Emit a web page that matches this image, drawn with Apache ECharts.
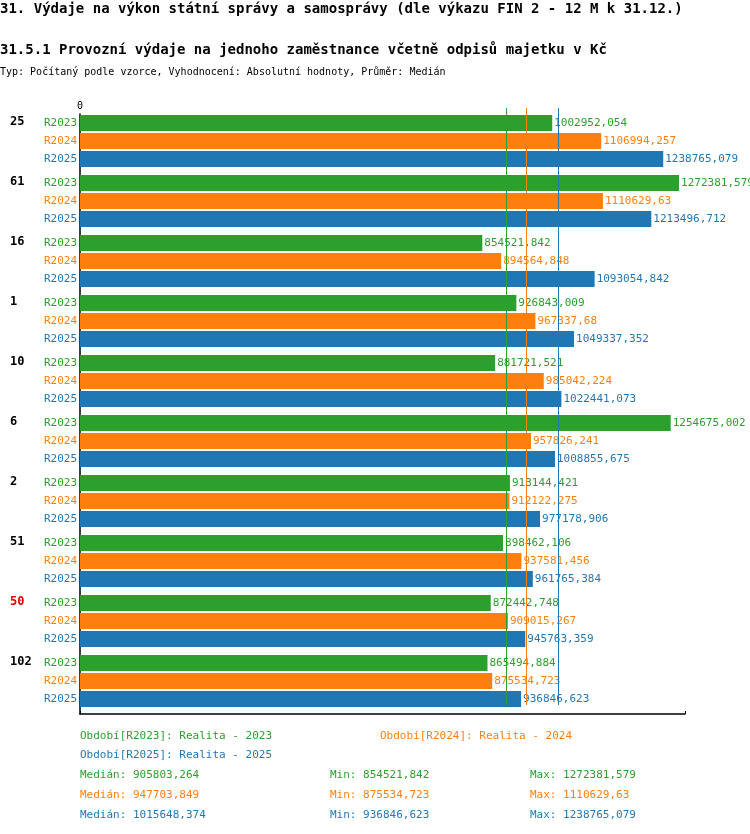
<!DOCTYPE html>
<html>
<head>
<meta charset="UTF-8">
<script src="https://cdn.jsdelivr.net/npm/echarts@6/dist/echarts.min.js"></script>
<style>body{margin:0}#root{width:750px;height:834px}</style>
</head>
<body>
<div id="root"></div>
<script>
var groups = ['25', '61', '16', '1', '10', '6', '2', '51', '50', '102'];
var periods = ['R2023', 'R2024', 'R2025'];
var r2023 = [1002952.054, 1272381.579, 854521.842, 926843.009, 881721.521, 1254675.002, 913144.421, 898462.106, 872442.748, 865494.884];
var r2024 = [1106994.257, 1110629.63, 894564.848, 967337.68, 985042.224, 957826.241, 912122.275, 937581.456, 909015.267, 875534.723];
var r2025 = [1238765.079, 1213496.712, 1093054.842, 1049337.352, 1022441.073, 1008855.675, 977178.906, 961765.384, 945763.359, 936846.623];
var medians = [905803.264, 947703.849, 1015648.374];
var colors = ['#2ca02c', '#ff7f0e', '#1f77b4'];
var XMAX = 1285000;
var font = 'DejaVu Sans Mono';

function fmt(v) { return String(v).replace('.', ','); }

var grids = [], xAxes = [], yAxes = [], series = [], graphics = [];
groups.forEach(function (g, i) {
  grids.push({ left: 80, width: 605, top: 114 + i * 60, height: 54 });
  xAxes.push({ gridIndex: i, type: 'value', min: 0, max: XMAX, show: false });
  yAxes.push({
    gridIndex: i, type: 'category', data: periods, inverse: true,
    axisLine: { show: false }, axisTick: { show: false },
    axisLabel: {
      fontFamily: font, fontSize: 11, margin: 3,
      formatter: function (v) { return '{' + v + '|' + v + '}'; },
      rich: { R2023: { color: colors[0], fontFamily: font, fontSize: 11 }, R2024: { color: colors[1], fontFamily: font, fontSize: 11 }, R2025: { color: colors[2], fontFamily: font, fontSize: 11 } }
    }
  });
  var vals = [r2023[i], r2024[i], r2025[i]];
  series.push({
    type: 'bar', xAxisIndex: i, yAxisIndex: i, barWidth: 16, z: 3,
    data: vals.map(function (v, k) {
      return { value: v, itemStyle: { color: colors[k] }, label: { color: colors[k] } };
    }),
    label: { show: true, position: 'right', distance: 2, fontFamily: font, fontSize: 11, formatter: function (p) { return fmt(p.value); } }
  });
  graphics.push({ type: 'text', left: 10, top: 116 + i * 60, style: { text: g, font: 'bold 12px ' + font, fill: g === '50' ? '#e00000' : '#000' } });
});

// axis frame grid
var fi = groups.length;
grids.push({ left: 80, width: 605, top: 114, height: 600 });
xAxes.push({ gridIndex: fi, type: 'value', position: 'top', min: 0, max: XMAX, interval: XMAX, splitLine: { show: false },
  axisLine: { lineStyle: { color: '#000', width: 1.5 } }, axisTick: { show: true, length: 3, lineStyle: { color: '#000' } },
  axisLabel: { fontFamily: font, fontSize: 10, color: '#000', margin: 3, formatter: function (v) { return v === 0 ? '0' : ''; } } });
yAxes.push({ gridIndex: fi, type: 'value', min: 0, max: 1, axisLine: { show: true, lineStyle: { color: '#000', width: 1.5 } },
  axisTick: { show: false }, axisLabel: { show: false }, splitLine: { show: false } });
series.push({ type: 'line', xAxisIndex: fi, yAxisIndex: fi, data: [] });

// median lines grid
var mi = fi + 1;
grids.push({ left: 80, width: 605, top: 108, height: 597 });
xAxes.push({ gridIndex: mi, type: 'value', min: 0, max: XMAX, show: false });
yAxes.push({ gridIndex: mi, type: 'value', min: 0, max: 1, show: false });
series.push({
  type: 'line', xAxisIndex: mi, yAxisIndex: mi, data: [], z: 1,
  markLine: {
    symbol: 'none', silent: true, label: { show: false },
    data: medians.map(function (m, k) { return { xAxis: m, lineStyle: { color: colors[k], width: 1, type: 'solid' } }; })
  }
});

var mins = [Math.min.apply(null, r2023), Math.min.apply(null, r2024), Math.min.apply(null, r2025)];
var maxs = [Math.max.apply(null, r2023), Math.max.apply(null, r2024), Math.max.apply(null, r2025)];
var tf = '11px ' + font;
graphics.push(
  { type: 'text', left: 0, top: 2, style: { text: '31. Výdaje na výkon státní správy a samosprávy (dle výkazu FIN 2 - 12 M k 31.12.)', font: 'bold 14px ' + font, fill: '#000' } },
  { type: 'text', left: 0, top: 43, style: { text: '31.5.1 Provozní výdaje na jednoho zaměstnance včetně odpisů majetku v Kč', font: 'bold 14px ' + font, fill: '#000' } },
  { type: 'text', left: 0, top: 67, style: { text: 'Typ: Počítaný podle vzorce, Vyhodnocení: Absolutní hodnoty, Průměr: Medián', font: '10px ' + font, fill: '#000' } },
  { type: 'text', left: 80, top: 731, style: { text: 'Období[R2023]: Realita - 2023', font: tf, fill: colors[0] } },
  { type: 'text', left: 380, top: 731, style: { text: 'Období[R2024]: Realita - 2024', font: tf, fill: colors[1] } },
  { type: 'text', left: 80, top: 750, style: { text: 'Období[R2025]: Realita - 2025', font: tf, fill: colors[2] } }
);
[0, 1, 2].forEach(function (k) {
  var y = 770 + k * 20;
  graphics.push(
    { type: 'text', left: 80, top: y, style: { text: 'Medián: ' + fmt(medians[k]), font: tf, fill: colors[k] } },
    { type: 'text', left: 330, top: y, style: { text: 'Min: ' + fmt(mins[k]), font: tf, fill: colors[k] } },
    { type: 'text', left: 530, top: y, style: { text: 'Max: ' + fmt(maxs[k]), font: tf, fill: colors[k] } }
  );
});

var chart = echarts.init(document.getElementById('root'));
chart.setOption({
  animation: false,
  backgroundColor: '#fff',
  grid: grids, xAxis: xAxes, yAxis: yAxes, series: series, graphic: graphics
});
</script>
</body>
</html>
